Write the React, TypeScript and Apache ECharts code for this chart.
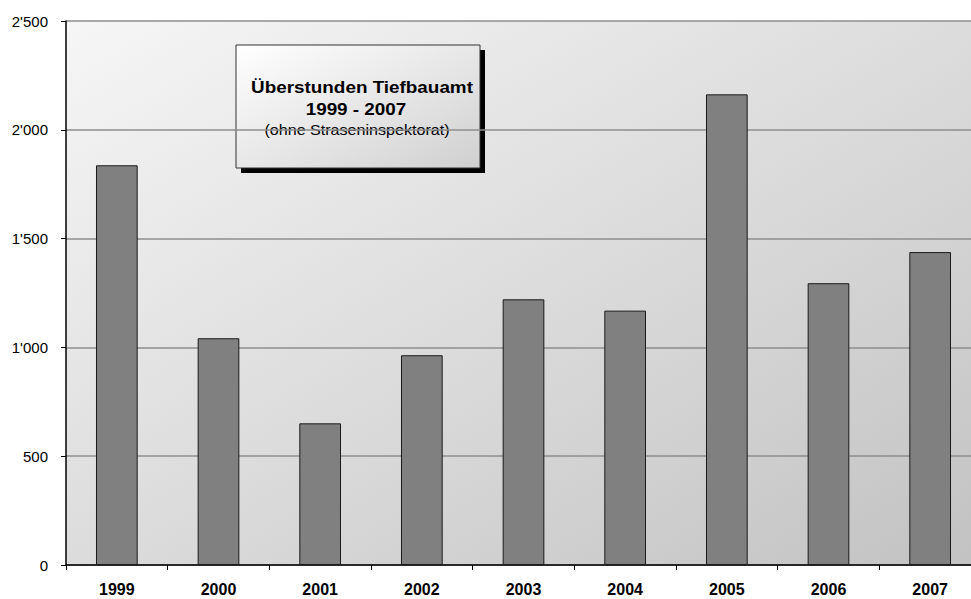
import React, { useEffect, useRef } from "react";
import * as echarts from "echarts";

const years = ["1999", "2000", "2001", "2002", "2003", "2004", "2005", "2006", "2007"];
const hours = [1837, 1042, 651, 964, 1221, 1169, 2163, 1295, 1438];
const titleLines = ["Überstunden Tiefbauamt", "1999 - 2007"];
const subtitle = "(ohne Straseninspektorat)";

const fmt = (v: number) => {
  if (v >= 1000) {
    const th = Math.floor(v / 1000);
    const rest = String(v % 1000).padStart(3, "0");
    return th + "'" + rest;
  }
  return String(v);
};

export default function App() {
  const ref = useRef<HTMLDivElement>(null);
  useEffect(() => {
    if (!ref.current) return;
    document.body.style.margin = "0";
    document.body.style.overflow = "hidden";
    const chart = echarts.init(ref.current, undefined, { renderer: "svg" });
    const font = "'Liberation Sans', Arial, sans-serif";
    chart.setOption({
      animation: false,
      backgroundColor: "#ffffff",
      grid: {
        left: 66,
        top: 21,
        height: 544,
        width: 915,
        show: true,
        borderWidth: 0,
        backgroundColor: new echarts.graphic.LinearGradient(0, 0, 1, 1, [
          { offset: 0, color: "#f6f6f6" },
          { offset: 1, color: "#c2c2c2" },
        ]),
      },
      xAxis: {
        type: "category",
        data: years,
        axisLine: { show: true, lineStyle: { color: "#000", width: 1.5 } },
        axisTick: { show: true, length: 5, lineStyle: { color: "#000" } },
        axisLabel: {
          fontFamily: font,
          fontWeight: "bold",
          fontSize: 16,
          color: "#000",
          margin: 16,
        },
      },
      yAxis: {
        type: "value",
        min: 0,
        max: 2500,
        interval: 500,
        axisLine: { show: true, lineStyle: { color: "#000", width: 1.5 } },
        axisTick: { show: true, length: 5, lineStyle: { color: "#000" } },
        axisLabel: {
          fontFamily: font,
          fontSize: 15,
          color: "#000",
          margin: 18,
          formatter: (v: number) => fmt(v),
        },
        splitLine: { show: true, lineStyle: { color: "#8e8e8e", width: 1.5 } },
      },
      series: [
        {
          type: "bar",
          data: hours,
          barWidth: "41%",
          itemStyle: { color: "#808080", borderColor: "#1a1a1a", borderWidth: 1 },
        },
      ],
      graphic: [
        {
          type: "rect",
          shape: { x: 241, y: 50, width: 244, height: 123 },
          style: { fill: "#000" },
          silent: true,
        },
        {
          type: "rect",
          shape: { x: 236, y: 45, width: 244, height: 123 },
          style: {
            fill: new echarts.graphic.LinearGradient(0, 0, 1, 1, [
              { offset: 0, color: "#ffffff" },
              { offset: 1, color: "#d0d0d0" },
            ]),
            stroke: "#333",
            lineWidth: 1,
          },
          silent: true,
        },
        {
          type: "text",
          x: 362,
          y: 88,
          scaleX: 1.18,
          style: {
            text: titleLines[0],
            font: "bold 16px " + font,
            fill: "#000",
            textAlign: "center",
            textVerticalAlign: "middle",
          },
          silent: true,
        },
        {
          type: "text",
          x: 356,
          y: 110,
          scaleX: 1.18,
          style: {
            text: titleLines[1],
            font: "bold 16px " + font,
            fill: "#000",
            textAlign: "center",
            textVerticalAlign: "middle",
          },
          silent: true,
        },
        {
          type: "text",
          x: 357,
          y: 130,
          scaleX: 1.15,
          style: {
            text: subtitle,
            font: "14px " + font,
            fill: "#000",
            textAlign: "center",
            textVerticalAlign: "middle",
          },
          silent: true,
        },
      ],
    });
    return () => chart.dispose();
  }, []);
  return (
    <div
      ref={ref}
      style={{ position: "fixed", left: 0, top: 0, width: 995, height: 599 }}
    />
  );
}
